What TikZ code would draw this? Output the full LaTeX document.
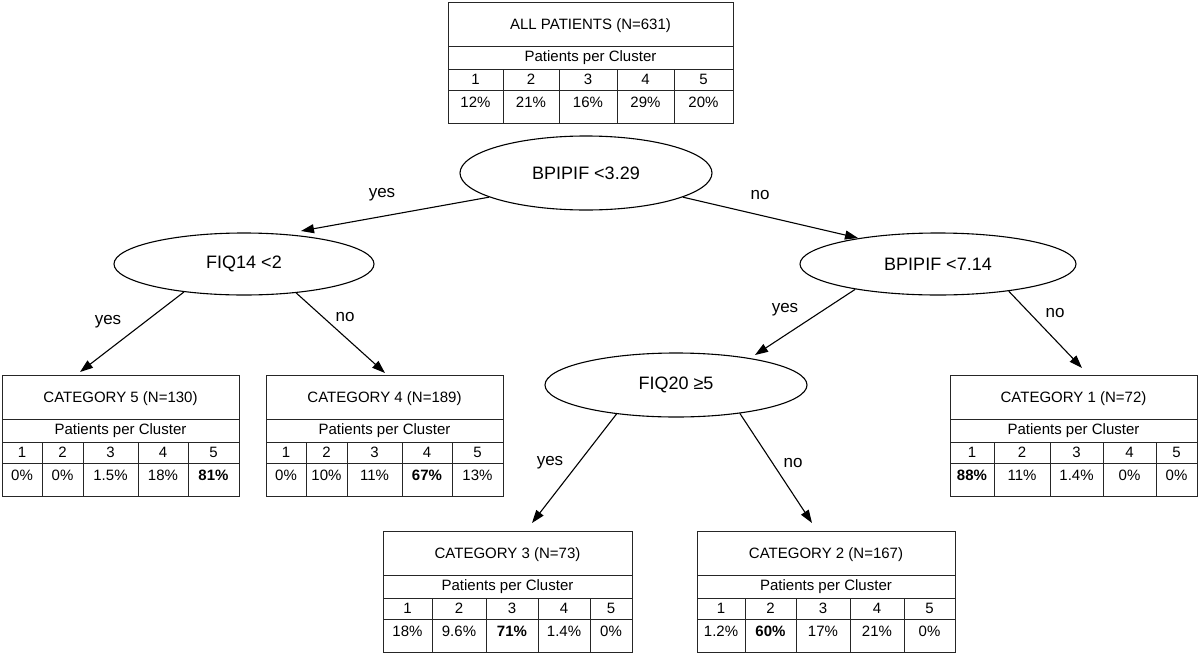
\documentclass[tikz,border=0pt]{standalone}
\usepackage{fontspec}
\setmainfont{Liberation Sans}
\usetikzlibrary{arrows.meta,shapes.geometric}
\tikzset{
  tline/.style={line width=0.9pt, draw=black!85},
  ttxt/.style={font=\fontsize{15}{18}\selectfont, inner sep=0pt},
  dec/.style={ellipse, draw, line width=1.1pt, inner sep=0pt, font=\fontsize{18}{21}\selectfont},
  arr/.style={line width=1.1pt, -{Triangle[length=13pt,width=9pt]}},
  lab/.style={font=\fontsize{17}{20}\selectfont, inner sep=0pt},
}
\def\setcols#1,#2,#3,#4,#5,#6\relax{\def\cA{#1}\def\cB{#2}\def\cC{#3}\def\cD{#4}\def\cE{#5}\def\cF{#6}}
\def\setpcts#1,#2,#3,#4,#5\relax{\def\pA{#1}\def\pB{#2}\def\pC{#3}\def\pD{#4}\def\pE{#5}}
% #1 name, #2 top y, #3 column boundaries x0..x5, #4 title, #5 percentages
\newcommand\ptable[5]{%
  \setcols#3\relax
  \setpcts#5\relax
  \pgfmathsetmacro\tW{\cF-\cA}%
  \pgfmathsetmacro\tXc{(\cA+\cF)/2}%
  \node[tline, draw, rectangle, inner sep=0pt, outer sep=0pt,
        minimum width=\tW pt, minimum height=121pt, anchor=north west] (#1) at (\cA,#2) {};
  \draw[tline] (\cA,#2+44) -- (\cF,#2+44);
  \draw[tline] (\cA,#2+67) -- (\cF,#2+67);
  \draw[tline] (\cA,#2+88) -- (\cF,#2+88);
  \foreach \vX in {\cB,\cC,\cD,\cE} {%
    \draw[tline] (\vX,#2+67) -- (\vX,#2+121);
  }
  \node[ttxt] (#1-title) at (\tXc,#2+24) {#4};
  \node[ttxt] (#1-head) at (\tXc,#2+56) {Patients per Cluster};
  \foreach \a/\b/\n/\p in {\cA/\cB/1/\pA,\cB/\cC/2/\pB,\cC/\cD/3/\pC,\cD/\cE/4/\pD,\cE/\cF/5/\pE} {%
    \pgfmathsetmacro\cX{(\a+\b)/2}%
    \node[ttxt] (#1-n\n) at (\cX,#2+77) {\n};
    \node[ttxt] (#1-p\n) at (\cX,#2+100) {\p};
  }
}
\begin{document}
\begin{tikzpicture}[x=1pt,y=-1pt]
\useasboundingbox (0,0) rectangle (1200,654);

\ptable{all}{2}{448,503,559,617,674,733}{ALL PATIENTS (N=631)}{12\%,21\%,16\%,29\%,20\%}
\ptable{cat5}{375}{2,42,83,138,188,239}{CATEGORY 5 (N=130)}{0\%,0\%,1.5\%,18\%,\textbf{81\%}}
\ptable{cat4}{375}{266,306,347,402,452,503}{CATEGORY 4 (N=189)}{0\%,10\%,11\%,\textbf{67\%},13\%}
\ptable{cat1}{375}{950,994,1050,1103,1156,1197}{CATEGORY 1 (N=72)}{\textbf{88\%},11\%,1.4\%,0\%,0\%}
\ptable{cat3}{531}{383,432,486,538,590,632}{CATEGORY 3 (N=73)}{18\%,9.6\%,\textbf{71\%},1.4\%,0\%}
\ptable{cat2}{531}{697,745,796,850,904,955}{CATEGORY 2 (N=167)}{1.2\%,\textbf{60\%},17\%,21\%,0\%}

\node[dec, minimum width=252pt, minimum height=74pt] (e1) at (586,173) {BPIPIF <3.29};
\node[dec, minimum width=260pt, minimum height=62pt] (e2) at (244,264) {FIQ14 <2};
\node[dec, minimum width=276pt, minimum height=62pt] (e3) at (938,264) {BPIPIF <7.14};
\node[dec, minimum width=262pt, minimum height=64pt] (e4) at (676,385) {FIQ20 ≥5};

\coordinate (t1) at (301,231);
\coordinate (t2) at (858,238);
\coordinate (t3) at (80,372);
\coordinate (t4) at (385,373);
\coordinate (t5) at (755,355);
\coordinate (t6) at (1082,368);
\coordinate (t7) at (532,523);
\coordinate (t8) at (812,523);

\draw[arr] (e1.194) -- (t1);
\draw[arr] (e1.346) -- (t2);
\draw[arr] (e2.205) -- (t3);
\draw[arr] (e2.331) -- (t4);
\draw[arr] (e3.197) -- (t5);
\draw[arr] (e3.339) -- (t6);
\draw[arr] (e4.206) -- (t7);
\draw[arr] (e4.336) -- (t8);

\node[lab] (l1) at (382,195) {yes};
\node[lab] (l2) at (760,195) {no};
\node[lab] (l3) at (108,322) {yes};
\node[lab] (l4) at (345,317) {no};
\node[lab] (l5) at (785,310) {yes};
\node[lab] (l6) at (1055,313) {no};
\node[lab] (l7) at (550,463) {yes};
\node[lab] (l8) at (793,463) {no};
\end{tikzpicture}
\end{document}
